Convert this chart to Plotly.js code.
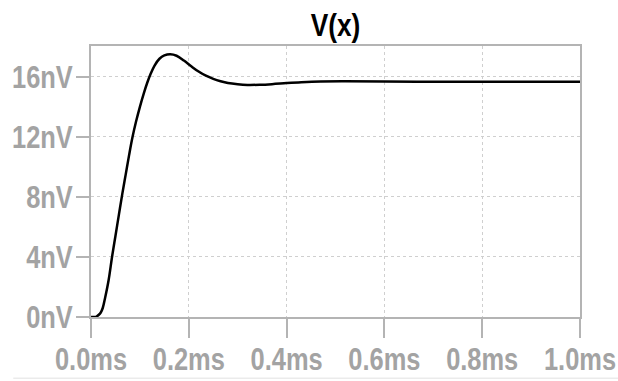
<!DOCTYPE html>
<html>
<head>
<meta charset="utf-8">
<script src="https://cdn.plot.ly/plotly-3.0.1.min.js"></script>
<style>
  html, body { margin: 0; padding: 0; background: #ffffff; }
  #chart { width: 618px; height: 381px; }
</style>
</head>
<body>
<div id="chart"></div>
<script>
// Transient response of node x: time in ms, voltage in nV
const timeMs = [0, 0.008, 0.012, 0.016, 0.02, 0.024, 0.029, 0.036, 0.043, 0.05,
  0.057, 0.064, 0.071, 0.078, 0.085, 0.092, 0.1, 0.108, 0.115, 0.122,
  0.13, 0.14, 0.15, 0.162, 0.175, 0.19, 0.205, 0.22, 0.235, 0.25,
  0.265, 0.28, 0.3, 0.32, 0.345, 0.37, 0.4, 0.43, 0.47, 0.52,
  0.6, 0.7, 0.8, 0.9, 1.0];
const voltNv = [0, 0, 0.05, 0.15, 0.3, 0.6, 1.3, 2.45, 4.0, 5.4,
  6.8, 8.2, 9.5, 10.8, 12.0, 13.0, 14.0, 14.9, 15.6, 16.2,
  16.75, 17.2, 17.42, 17.5, 17.4, 17.08, 16.7, 16.35, 16.07, 15.86,
  15.7, 15.58, 15.5, 15.46, 15.47, 15.51, 15.58, 15.64, 15.69, 15.7,
  15.68, 15.67, 15.67, 15.67, 15.67];

const xTickVals = [0, 0.2, 0.4, 0.6, 0.8, 1.0];
const xTickText = ["0.0ms", "0.2ms", "0.4ms", "0.6ms", "0.8ms", "1.0ms"];
const yTickVals = [0, 4, 8, 12, 16];
const yTickText = ["0nV", "4nV", "8nV", "12nV", "16nV"];

const axisGrey = "#b4b4b4";
const labelGrey = "#a3a3a3";
const baseFont = "Liberation Sans, Arial, sans-serif";
const labelFont = { family: baseFont, size: 31, color: labelGrey, weight: "bold" };
// Horizontal squeeze applied to the labels to get a condensed face
const condense = 0.82;

const trace = {
  x: timeMs,
  y: voltNv,
  type: "scatter",
  mode: "lines",
  line: { color: "#000000", width: 2.5, shape: "spline", smoothing: 1 },
  cliponaxis: false,
  hoverinfo: "skip"
};

const layout = {
  width: 618,
  height: 381,
  margin: { l: 91, r: 38, t: 46, b: 64 },
  paper_bgcolor: "#ffffff",
  plot_bgcolor: "#ffffff",
  showlegend: false,
  title: {
    text: "V(x)",
    font: { family: baseFont, size: 32, color: "#000000", weight: "bold" },
    x: 0.5, xref: "paper",
    y: 0.935, yref: "container", yanchor: "middle"
  },
  xaxis: {
    range: [0, 1.0],
    tickmode: "array",
    tickvals: xTickVals,
    ticktext: xTickText,
    tickangle: 0,
    ticklabeloverflow: "allow",
    ticks: "outside",
    ticklen: 19,
    tickwidth: 2,
    tickcolor: axisGrey,
    tickfont: labelFont,
    ticklabelstandoff: -5,
    showline: true,
    linecolor: axisGrey,
    linewidth: 2,
    mirror: true,
    showgrid: true,
    gridcolor: "#cfcfcf",
    gridwidth: 1,
    griddash: "dot",
    zeroline: false,
    fixedrange: true
  },
  yaxis: {
    range: [0, 18.05],
    tickmode: "array",
    tickvals: yTickVals,
    ticktext: yTickText,
    ticklabeloverflow: "allow",
    ticks: "outside",
    ticklen: 13,
    tickwidth: 2,
    tickcolor: axisGrey,
    tickfont: labelFont,
    ticklabelstandoff: -3,
    showline: true,
    linecolor: axisGrey,
    linewidth: 2,
    mirror: true,
    showgrid: true,
    gridcolor: "#cfcfcf",
    gridwidth: 1,
    griddash: "dot",
    zeroline: false,
    fixedrange: true
  },
  shapes: [{
    type: "line",
    xref: "paper", yref: "paper",
    x0: -0.159, x1: 1.08, y0: -0.226, y1: -0.226,
    line: { color: "#ebebeb", width: 1.5 }
  }]
};

Plotly.newPlot("chart", [trace], layout, { displayModeBar: false, staticPlot: true })
  .then(function (gd) {
    const labels = gd.querySelectorAll("g.xtick text, g.ytick text, text.gtitle");
    labels.forEach(function (el) {
      const w = el.getComputedTextLength();
      el.setAttribute("textLength", (w * condense).toFixed(2));
      el.setAttribute("lengthAdjust", "spacingAndGlyphs");
    });
  });
</script>
</body>
</html>
